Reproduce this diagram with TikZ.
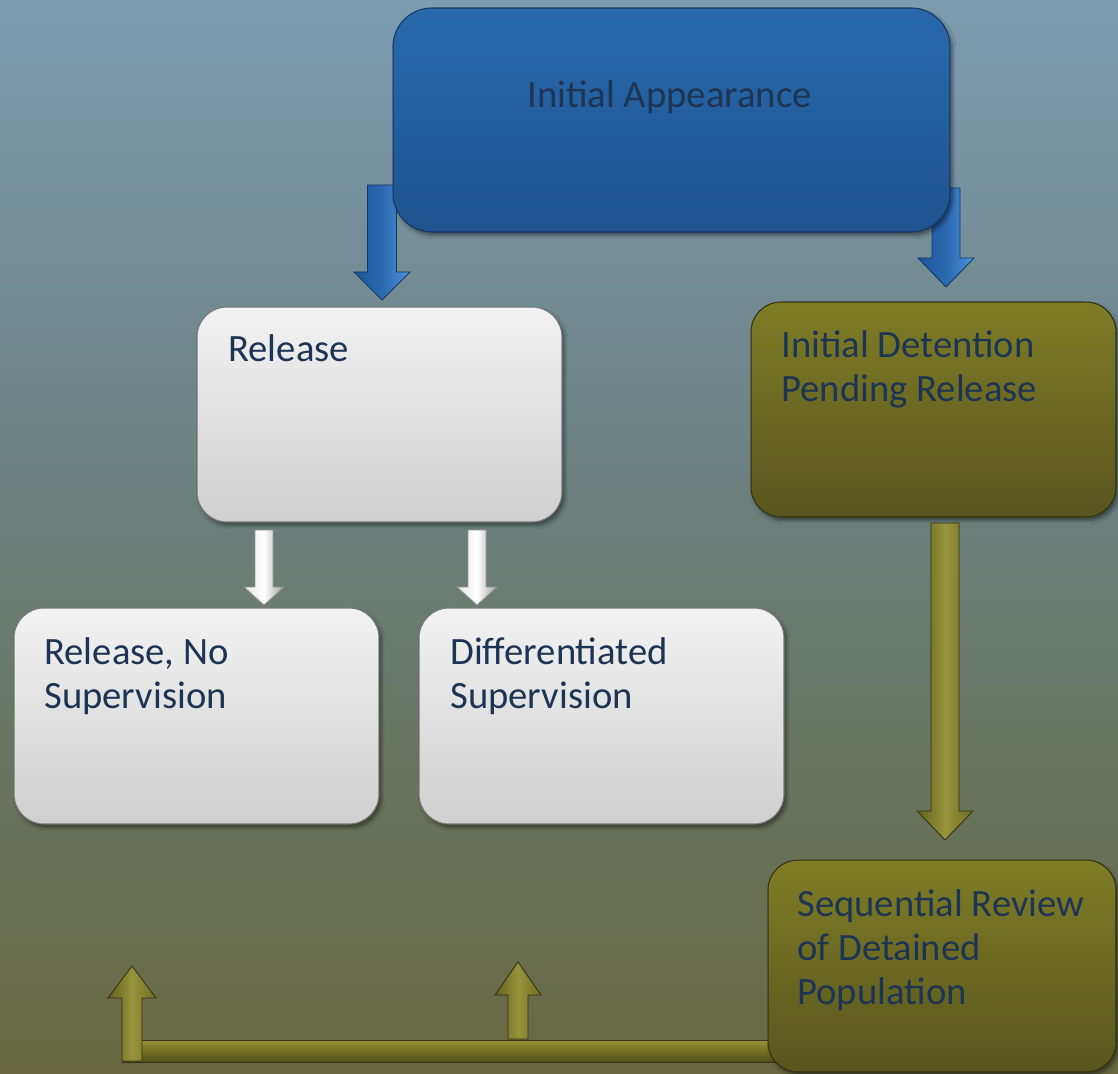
\documentclass[tikz,border=0pt]{standalone}
\usepackage{fontspec}
\setmainfont{Carlito}
\usetikzlibrary{shadows.blur}

\definecolor{bgtop}{RGB}{124,156,177}
\definecolor{bgmid}{RGB}{106,126,121}
\definecolor{bgbot}{RGB}{103,104,64}
\definecolor{inktext}{RGB}{30,52,84}
\definecolor{bluetop}{RGB}{40,105,172}
\definecolor{bluebot}{RGB}{30,84,142}
\definecolor{blueedge}{RGB}{22,55,98}
\definecolor{bluelite}{RGB}{78,148,222}
\definecolor{bluedark}{RGB}{28,86,156}
\definecolor{greytop}{RGB}{242,242,242}
\definecolor{greybot}{RGB}{208,208,208}
\definecolor{greyedge}{RGB}{120,120,120}
\definecolor{greydark}{RGB}{160,160,160}
\definecolor{olivetop}{RGB}{126,125,38}
\definecolor{olivebot}{RGB}{88,85,30}
\definecolor{oliveedge}{RGB}{50,50,20}
\definecolor{olivelite}{RGB}{150,148,60}
\definecolor{olivemid}{RGB}{112,110,34}
\definecolor{olivedark}{RGB}{96,96,28}

\tikzset{
  card/.style={rounded corners=17pt, inner sep=0pt, line width=0.6pt,
    minimum width=7.3cm, minimum height=4.3cm,
    blur shadow={shadow xshift=1.5pt, shadow yshift=-2pt, shadow blur steps=6, shadow opacity=45}},
  bluecard/.style={card, draw=blueedge, top color=bluetop, bottom color=bluebot, rounded corners=22pt},
  greycard/.style={card, draw=greyedge, top color=greytop, bottom color=greybot},
  olivecard/.style={card, draw=oliveedge, top color=olivetop, bottom color=olivebot},
  label/.style={text=inktext, font=\fontsize{22}{25}\selectfont, align=left, inner sep=0pt, anchor=base west},
  bluearrow/.style={draw=blueedge, line width=0.5pt, left color=bluedark, right color=bluelite, middle color=bluedark!70!bluelite},
  greyarrow/.style={draw=greyedge!80, line width=0.5pt, left color=greytop!90!gray, right color=greydark, middle color=white},
  olivearrow/.style={draw=oliveedge, line width=0.5pt, left color=olivedark, right color=olivemid, middle color=olivelite},
  olivebar/.style={draw=oliveedge, line width=0.5pt, top color=olivelite, bottom color=olivedark!85!black, middle color=olivemid},
}

% block arrow pointing down: style, centre x, top y, tip y, shaft half width, head half width, head length
\newcommand{\blockdown}[7]{%
  \path[#1] ({#2-#5},#3) -- ({#2+#5},#3) -- ({#2+#5},{#4-#7}) -- ({#2+#6},{#4-#7})
    -- (#2,#4) -- ({#2-#6},{#4-#7}) -- ({#2-#5},{#4-#7}) -- cycle;}
% block arrow pointing up: style, centre x, bottom y, tip y, shaft half width, head half width, head length
\newcommand{\blockup}[7]{%
  \path[#1] ({#2-#5},#3) -- ({#2+#5},#3) -- ({#2+#5},{#4+#7}) -- ({#2+#6},{#4+#7})
    -- (#2,#4) -- ({#2-#6},{#4+#7}) -- ({#2-#5},{#4+#7}) -- cycle;}

\begin{document}
\begin{tikzpicture}[x=0.02cm, y=-0.02cm]
  % backdrop
  \path[use as bounding box, top color=bgtop, bottom color=bgbot, middle color=bgmid]
    (0,0) rectangle (1118,1074);

  % arrows leaving the first box sit underneath it
  \blockdown{bluearrow}{382}{185}{300}{14.5}{28}{28}
  \blockdown{bluearrow}{946}{188}{287}{14}{28}{29}

  % first decision
  \node[bluecard, minimum width=11.14cm, minimum height=4.48cm] (ia) at (671.5,120) {};
  \node[label, anchor=base] (iatext) at (669.5,108) {Initial Appearance};

  % release branch
  \node[greycard] (rel) at (379.5,414.5) {};
  \node[label] (reltext) at (228,361) {Release};

  % detention branch
  \node[olivecard] (det) at (933.5,409.5) {};
  \node[label] (dettext) at (781,401) {Initial Detention\\Pending Release};

  % release outcomes
  \blockdown{greyarrow}{264}{530}{605}{9}{20}{18}
  \blockdown{greyarrow}{477}{530}{605}{9}{20}{18}
  \node[greycard, minimum height=4.32cm] (rns) at (196.5,716) {};
  \node[label] (rnstext) at (44,708) {Release, No\\Supervision};
  \node[greycard, minimum height=4.32cm] (dif) at (601.5,716) {};
  \node[label] (diftext) at (450,708) {Differentiated\\Supervision};

  % detention to review
  \blockdown{olivearrow}{945}{523}{840}{14}{28}{29}

  % feedback from review into both release outcomes
  \coordinate (barleft) at (122,1040);
  \coordinate (barright) at (800,1062);
  \path[olivebar] (barleft) rectangle (barright);
  \blockup{olivearrow}{132}{1061}{966}{10}{24}{32}
  \blockup{olivearrow}{518}{1039}{962}{10}{23}{33}

  \node[olivecard, minimum width=6.96cm, minimum height=4.24cm] (seq) at (942,966) {};
  \node[label] (seqtext) at (797,1004) {Sequential Review\\of Detained\\Population};
\end{tikzpicture}
\end{document}
